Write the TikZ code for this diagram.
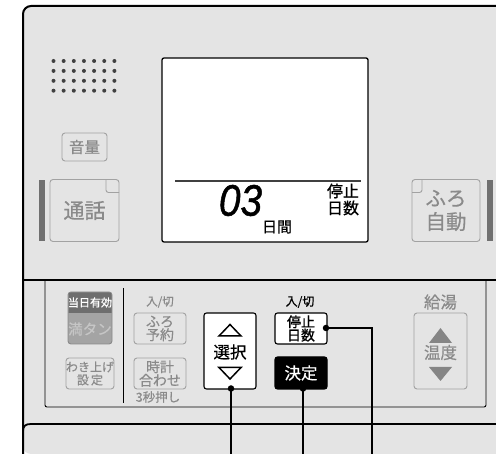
\documentclass[tikz,border=0pt]{standalone}
\usepackage{fontspec}
\newfontfamily\jp[FakeBold=0.6]{Noto Sans CJK JP}
\newfontfamily\digitfont[FakeBold=1.2]{Liberation Sans}
\newcommand\jpf[2]{\jp\fontsize{#1}{#2}\selectfont}
\definecolor{panelbg}{HTML}{E4E4E4}
\definecolor{btnline}{HTML}{A2A2A2}
\definecolor{btntext}{HTML}{8A8A8A}
\definecolor{barc}{HTML}{707070}
\definecolor{dotgray}{HTML}{404040}
\definecolor{tjdark}{HTML}{6E6E6E}
\definecolor{mtfill}{HTML}{A4A4A4}
\definecolor{mttext}{HTML}{C6C6C6}
\definecolor{lcdline}{HTML}{404040}
\definecolor{tridark}{HTML}{858585}
\tikzset{
  gbtn/.style={draw=btnline, line width=0.9pt, rounded corners=3pt, inner sep=0pt, text=btntext, align=center},
  bbtn/.style={draw=black, fill=white, line width=1.1pt, rounded corners=2.5pt, inner sep=0pt, align=center},
  lbl/.style={inner sep=0pt, align=center},
  leader/.style={line width=1.8pt, black},
  dotc/.style={circle, fill=black, inner sep=0pt, minimum size=6.5pt},
  spk/.style={circle, fill=dotgray, inner sep=0pt, minimum size=4pt},
  sidebar/.style={fill=barc, draw=none, inner sep=0pt},
}
\begin{document}
\begin{tikzpicture}[x=1pt,y=-1pt]
\useasboundingbox (0,0) rectangle (496,454);
\fill[white] (0,0) rectangle (496,454);
% panel body
\fill[panelbg, rounded corners=8pt] (23,454) -- (23,6) -- (500,6) -- (500,454) -- cycle;
\fill[panelbg] (100,100) rectangle (496,454);
\draw[line width=2pt, rounded corners=8pt] (23,455) -- (23,6) -- (497,6);

% speaker grille
\foreach \r in {0,...,3}{
  \foreach \c in {0,...,6}{
    \node[spk] (sp\r\c) at (53.5+\c*10.15, 61+\r*9.9) {};
  }
}

% volume button
\node[gbtn, minimum width=45pt, minimum height=28pt, font=\jpf{15.5}{16}] (vol) at (84.5,147) {音量};

% talk button
\node[sidebar, minimum width=5.5pt, minimum height=61pt] (barl) at (42,210.5) {};
\node[gbtn, minimum width=69pt, minimum height=62pt, font=\jpf{21}{22}] (tsuwa) at (84.5,210.5) {通話};
\draw[btnline, line width=0.9pt, rounded corners=2.5pt] (106,179.5) -- (106,192.5) -- (119,192.5);

% LCD
\node[draw=black, fill=white, line width=1.3pt, rounded corners=2pt, minimum width=206pt, minimum height=184pt, inner sep=0pt] (lcd) at (265,150) {};
\draw[lcdline, line width=1.8pt] (175,181) -- (361,181);
\node[lbl, font=\digitfont\itshape\fontsize{44}{44}\selectfont, xscale=0.88] (days) at (240.5,200.5) {03};
\node[lbl, font=\jpf{16}{17}] (stopd) at (343,199.5) {停止\\日数};
\node[lbl, font=\jpf{15}{16}] (nichikan) at (277,227) {日間};

% bath auto button
\node[gbtn, minimum width=68pt, minimum height=62pt, font=\jpf{20.5}{23.5}] (furo) at (446,210.5) {ふろ\\自動};
\draw[btnline, line width=0.9pt, rounded corners=2.5pt] (412,192.5) -- (422,192.5) -- (422,179.5);
\node[sidebar, minimum width=6pt, minimum height=61pt] (barr) at (490,210.5) {};

% separator and lower inner panel
\draw[line width=1.2pt] (23,280) -- (497,280);
\draw[line width=0.9pt, rounded corners=2pt] (45,280) -- (45,407) -- (486,407) -- (486,280);
\draw[line width=1.8pt] (23,431) .. controls (23,426) and (25.5,424) .. (31,424) -- (497,424);
\draw[line width=1pt] (123,288) -- (123,403);

% 当日有効 / 満タン
\node[draw=btnline!85!black, fill=mtfill, line width=0.9pt, rounded corners=3pt, minimum width=44pt, minimum height=52pt, inner sep=0pt] (mantan) at (90,318) {};
\fill[tjdark] (68.5,313) -- (68.5,295) arc[start angle=180, end angle=90, radius=2.5pt] -- (109,292.5) arc[start angle=90, end angle=0, radius=2.5pt] -- (111.5,313) -- cycle;
\node[lbl, text=white, font=\jpf{11}{12}] (toujitsu) at (90,302.5) {当日有効};
\node[lbl, text=mttext, font=\jpf{14.5}{15}] (mantantext) at (90,329) {満タン};

% わき上げ設定
\node[gbtn, minimum width=44pt, minimum height=31pt, font=\jpf{12}{13}] (wakiage) at (90,373.5) {わき上げ\\設\,定};

% ふろ予約 / 時計合わせ
\node[lbl, text=btntext, font=\jpf{11.5}{12}] (onoff1) at (160,302) {入/切};
\node[gbtn, minimum width=52pt, minimum height=31pt, font=\jpf{14}{13.5}] (yoyaku) at (160,328.5) {ふろ\\予約};
\node[gbtn, minimum width=52pt, minimum height=31pt, font=\jpf{14}{13.5}] (tokei) at (160,373.5) {時計\\合わせ};
\node[lbl, text=btntext, font=\jpf{12.5}{13}] (sanbyou) at (158,397) {3秒押し};

% 選択
\node[bbtn, minimum width=52pt, minimum height=76pt] (sentaku) at (230,351) {};
\draw[line width=1.5pt, line join=miter] (230,324.5) -- (241,336) -- (219,336) -- cycle;
\draw[line width=1.5pt, line join=miter] (219,367.5) -- (241,367.5) -- (230,379) -- cycle;
\node[lbl, font=\jpf{16.5}{17}] (sentakutext) at (230,352) {選択};

% 停止日数 / 決定
\node[lbl, font=\jpf{12}{13}] (onoff2) at (300,302) {入/切};
\node[bbtn, minimum width=52pt, minimum height=31pt, font=\jpf{14}{13.5}] (teishi) at (301,328.5) {停止\\日数};
\node[bbtn, fill=black, text=white, minimum width=52pt, minimum height=32pt, font=\jpf{16.5}{17}] (kettei) at (301,373) {決定};

% 給湯 温度
\node[lbl, text=btntext, font=\jpf{16.5}{17}] (kyuto) at (440.5,302) {給湯};
\node[gbtn, minimum width=53pt, minimum height=76pt] (ondo) at (440.5,351) {};
\fill[tridark] (440.5,328) -- (452,343) -- (429,343) -- cycle;
\fill[tridark] (429,367) -- (452,367) -- (440.5,381) -- cycle;
\node[lbl, text=btntext, font=\jpf{16.5}{17}] (ondotext) at (440.5,352.5) {温度};

% leader lines
\node[dotc] (d1) at (231,388.5) {};
\node[dotc] (d2) at (303,388.5) {};
\node[dotc] (d3) at (326,328) {};
\coordinate (e1) at (231,455);
\coordinate (e2) at (303,455);
\coordinate (e3) at (372,455);
\draw[leader] (d1.center) -- (e1);
\draw[leader] (d2.center) -- (e2);
\draw[leader] (d3.center) -| (e3);
\end{tikzpicture}
\end{document}
